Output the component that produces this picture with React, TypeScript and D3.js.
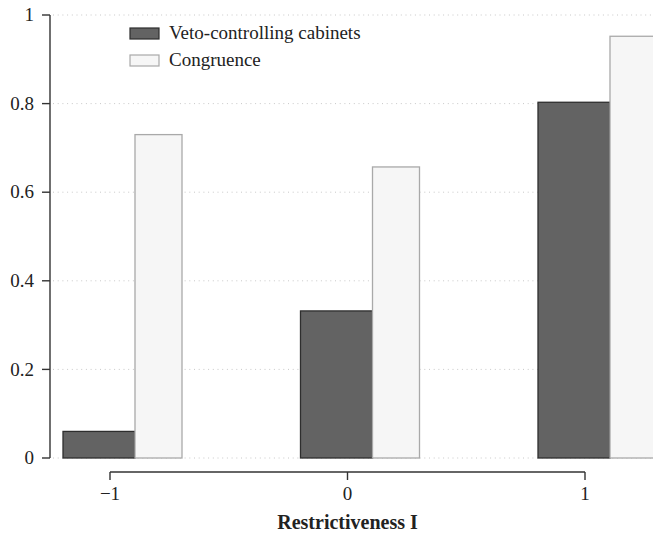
import React from "react";
import * as d3 from "d3";

const categories = [-1, 0, 1];
const vetoValues = [0.06, 0.332, 0.803];
const congruenceValues = [0.73, 0.657, 0.952];
const yTicks = [0, 0.2, 0.4, 0.6, 0.8, 1];
const seriesNames = ["Veto-controlling cabinets", "Congruence"];

const W = 653;
const H = 533;
const FONT = "'Liberation Serif', 'Times New Roman', serif";

export default function App() {
  const x = d3.scalePoint<number>().domain(categories).range([110, 585]);
  const y = d3.scaleLinear().domain([0, 1]).range([458, 15]);
  const darkW = 72;
  const lightW = 47;
  const darkOff = -47;
  const axisX = 50;
  const xAxisY = 472;
  const fmt = (v: number) => (v === 0 ? "0" : v === 1 ? "1" : d3.format(".1f")(v));
  const fmtX = (v: number) => (v < 0 ? "\u2212" + Math.abs(v) : String(v));

  return (
    <svg width={W} height={H} style={{ position: "absolute", left: 0, top: 0, background: "#fff" }} fontFamily={FONT}>
      {/* gridlines */}
      {yTicks.map((t) => (
        <line key={"g" + t} x1={53} x2={W} y1={y(t)} y2={y(t)} stroke="#c8c8c8" strokeWidth={1} strokeDasharray="1,3.7" />
      ))}
      {/* bars */}
      {categories.map((c, i) => (
        <g key={"b" + c}>
          <rect x={x(c)! + darkOff} y={y(vetoValues[i])} width={darkW} height={y(0) - y(vetoValues[i])} fill="#636363" stroke="#2e2e2e" strokeWidth={1.3} />
          <rect x={x(c)! + darkOff + darkW} y={y(congruenceValues[i])} width={lightW} height={y(0) - y(congruenceValues[i])} fill="#f6f6f6" stroke="#a9a9a9" strokeWidth={1.3} />
        </g>
      ))}
      {/* y axis */}
      <line x1={axisX} x2={axisX} y1={y(1)} y2={y(0)} stroke="#333" strokeWidth={1.4} />
      {yTicks.map((t) => (
        <g key={"yt" + t}>
          <line x1={axisX - 8} x2={axisX} y1={y(t)} y2={y(t)} stroke="#333" strokeWidth={1.4} />
          <text x={34} y={y(t)} dy="0.33em" textAnchor="end" fontSize={19} fill="#222">
            {fmt(t)}
          </text>
        </g>
      ))}
      {/* x axis */}
      <line x1={x(categories[0])!} x2={x(categories[categories.length - 1])!} y1={xAxisY} y2={xAxisY} stroke="#333" strokeWidth={1.4} />
      {categories.map((c) => (
        <g key={"xt" + c}>
          <line x1={x(c)!} x2={x(c)!} y1={xAxisY} y2={xAxisY + 8} stroke="#333" strokeWidth={1.4} />
          <text x={x(c)!} y={500} textAnchor="middle" fontSize={19} fill="#222">
            {fmtX(c)}
          </text>
        </g>
      ))}
      <text x={x(0)!} y={529} textAnchor="middle" fontSize={20} fontWeight="bold" fill="#222">
        Restrictiveness I
      </text>
      {/* legend */}
      <rect x={130} y={28} width={29} height={11} fill="#636363" stroke="#2e2e2e" strokeWidth={1.2} />
      <text x={169} y={39} fontSize={19} fill="#222">{seriesNames[0]}</text>
      <rect x={130} y={55} width={29} height={11} fill="#f6f6f6" stroke="#a9a9a9" strokeWidth={1.2} />
      <text x={169} y={66} fontSize={19} fill="#222">{seriesNames[1]}</text>
    </svg>
  );
}
